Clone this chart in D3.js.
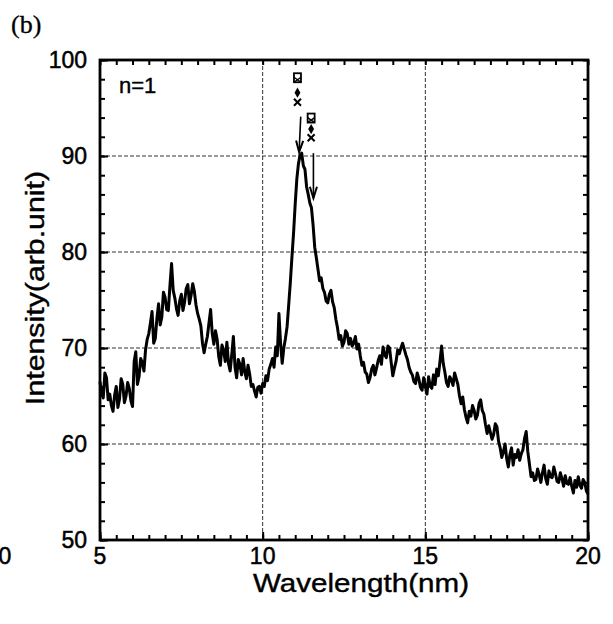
<!DOCTYPE html>
<html>
<head>
<meta charset="utf-8">
<script src="https://cdn.jsdelivr.net/npm/d3@7/dist/d3.min.js"></script>
<style>
  html, body { margin: 0; padding: 0; background: #fff; }
  svg { display: block; }
</style>
</head>
<body>
<svg id="chart" width="613" height="624"></svg>
<script>
// ---------- data ----------
// sampled every 0.05 nm from 5 to 20 nm
const wavelength = d3.range(0, 301).map(i => +(5 + i * 0.05).toFixed(2));
const intensity = [
  66.5, 65.2, 64.8, 67.4, 66.9, 64.6, 65.2, 64.0, 63.4, 65.1,
  66.0, 63.8, 64.7, 66.8, 66.2, 64.3, 65.0, 66.4, 65.8, 64.5,
  63.9, 68.6, 69.6, 66.2, 67.0, 68.9, 68.5, 67.6, 69.8, 70.9,
  71.5, 72.6, 73.8, 70.5, 71.0, 73.1, 74.6, 72.4, 73.2, 75.8,
  75.3, 74.0, 73.9, 76.5, 78.8, 76.0, 75.2, 74.1, 73.4, 74.9,
  75.6, 73.9, 74.8, 76.2, 76.6, 74.6, 75.5, 76.7, 75.9, 74.5,
  73.6, 73.0, 72.3, 70.5, 69.5, 70.4, 71.2, 72.6, 74.0, 71.5,
  70.4, 71.8, 70.9, 69.1, 68.2, 70.3, 69.8, 68.6, 70.6, 68.4,
  67.6, 69.3, 71.2, 68.0, 66.9, 68.8, 68.3, 67.2, 68.9, 67.5,
  66.8, 68.2, 67.3, 66.0, 66.2, 65.5, 64.9, 65.9, 66.0, 65.3,
  66.3, 66.0, 67.1, 66.6, 67.8, 68.3, 68.9, 68.0, 70.1, 69.2,
  73.6, 70.5, 68.4, 70.0, 71.0, 72.2, 74.5, 76.8, 79.5, 82.0,
  85.0, 87.6, 89.2, 90.1, 90.3, 89.0, 88.6, 86.8, 86.0, 85.1,
  84.6, 82.8, 80.5, 79.4, 78.2, 77.0, 77.3, 76.2, 75.8, 74.9,
  74.7, 75.6, 76.0, 74.8, 74.2, 73.0, 72.1, 70.9, 71.3, 70.2,
  70.6, 71.8, 71.5, 70.4, 71.0, 70.2, 70.5, 71.2, 69.9, 70.4,
  69.2, 68.2, 68.5, 67.5, 67.3, 66.4, 66.9, 67.8, 68.2, 67.2,
  67.9, 68.7, 69.2, 68.3, 70.1, 69.3, 69.0, 70.2, 70.0, 68.5,
  67.1, 67.9, 68.6, 69.8, 69.4, 70.0, 70.5, 69.9, 69.3, 68.8,
  68.0, 67.5, 67.2, 66.5, 66.3, 67.4, 66.8, 65.9, 65.6, 66.9,
  66.0, 65.2, 67.0, 66.0, 65.8, 67.2, 66.2, 67.8, 67.1, 68.6,
  70.2, 68.4, 67.5, 66.4, 66.0, 67.0, 66.7, 66.1, 67.4, 66.8,
  66.2, 65.0, 64.2, 64.9, 63.6, 62.8, 62.2, 63.4, 62.9, 64.0,
  63.5, 62.6, 63.0, 64.2, 64.6, 63.5, 63.1, 62.0, 61.1, 61.9,
  61.2, 60.5, 61.0, 62.1, 61.8, 60.3, 59.6, 58.6, 59.2, 60.0,
  58.5, 57.6, 58.9, 59.6, 57.8, 58.9, 58.6, 59.4, 58.3, 59.0,
  59.4, 60.6, 61.3, 59.2, 57.9, 56.6, 57.0, 56.2, 56.3, 57.4,
  56.8, 56.0, 57.0, 57.8, 56.4, 55.8, 57.2, 56.6, 56.5, 57.6,
  56.9, 56.1, 56.0, 57.0, 56.4, 55.6, 56.7, 55.9, 55.8, 56.5,
  55.6, 54.9, 56.2, 55.5, 56.6, 55.7, 55.4, 56.3, 56.0, 55.1,
  54.8
];
const xTicks = [5, 10, 15, 20];
const yTicks = [50, 60, 70, 80, 90, 100];
const xGrid = [10, 15];
const yGrid = [60, 70, 80, 90];
// annotation markers (wavelength, intensity)
const markerCols = [
  { x: 11.07, ySquare: 98.1, yDiamond: 96.6, yCross: 95.6 },
  { x: 11.49, ySquare: 93.9, yDiamond: 92.8, yCross: 91.9 }
];
const arrows = [
  { x1: 11.17, y1: 94.1, x2: 11.12, y2: 90.4 },
  { x1: 11.56, y1: 90.3, x2: 11.56, y2: 85.6 }
];

// ---------- layout ----------
const svg = d3.select("#chart");
const L = 100, R = 588, T = 60, B = 540;
const x = d3.scaleLinear().domain([5, 20]).range([L, R]);
const y = d3.scaleLinear().domain([50, 100]).range([B, T]);
const font = "'Liberation Sans', Arial, sans-serif";

// grid
const grid = svg.append("g").attr("stroke", "#333").attr("stroke-width", 1)
  .attr("stroke-dasharray", "4,2");
grid.selectAll("line.gx").data(xGrid).join("line")
  .attr("x1", d => x(d)).attr("x2", d => x(d)).attr("y1", T).attr("y2", B);
grid.selectAll("line.gy").data(yGrid).join("line")
  .attr("y1", d => y(d)).attr("y2", d => y(d)).attr("x1", L).attr("x2", R);

// data line
const line = d3.line().x((d, i) => x(wavelength[i])).y(d => y(d));
svg.append("path").datum(intensity)
  .attr("d", line).attr("fill", "none").attr("stroke", "#000")
  .attr("stroke-width", 3).attr("stroke-linejoin", "round");

// axes with inward ticks
function styleAxis(g) {
  g.select(".domain").remove();
  g.selectAll(".tick line").attr("stroke", "#000").attr("stroke-width", 2);
  g.selectAll("text").remove();
}
const xMinor = d3.range(5, 20.01, 0.5);
const yMinor = d3.range(50, 100.01, 2);
svg.append("g").attr("transform", `translate(0,${B})`)
  .call(d3.axisBottom(x).tickValues(xMinor).tickSize(-5)).call(styleAxis);
svg.append("g").attr("transform", `translate(0,${T})`)
  .call(d3.axisTop(x).tickValues(xMinor).tickSize(-5)).call(styleAxis);
svg.append("g").attr("transform", `translate(${L},0)`)
  .call(d3.axisLeft(y).tickValues(yMinor).tickSize(-5)).call(styleAxis);
svg.append("g").attr("transform", `translate(${R},0)`)
  .call(d3.axisRight(y).tickValues(yMinor).tickSize(-5)).call(styleAxis);
svg.append("g").attr("transform", `translate(0,${B})`)
  .call(d3.axisBottom(x).tickValues(xTicks).tickSize(-8)).call(styleAxis);
svg.append("g").attr("transform", `translate(${L},0)`)
  .call(d3.axisLeft(y).tickValues(yTicks).tickSize(-8)).call(styleAxis);

// frame
svg.append("rect").attr("x", L).attr("y", T).attr("width", R - L).attr("height", B - T)
  .attr("fill", "none").attr("stroke", "#000").attr("stroke-width", 2.8);

// text helper: slight stroke to mimic the heavy printed type
function ink(sel, w) {
  return sel.attr("fill", "#000").attr("stroke", "#000").attr("stroke-width", w);
}

// tick labels
svg.append("g").selectAll("text").data(xTicks).join("text")
  .attr("x", d => x(d)).attr("y", 564)
  .attr("text-anchor", "middle").attr("font-family", font).attr("font-size", 23)
  .call(ink, 0.5).text(d => d);
svg.append("g").selectAll("text").data(yTicks).join("text")
  .attr("x", 87).attr("y", d => y(d) + 8)
  .attr("text-anchor", "end").attr("font-family", font).attr("font-size", 23)
  .call(ink, 0.5).text(d => d);

// stray "0" from neighbouring panel
svg.append("text").attr("x", 5).attr("y", 564).attr("text-anchor", "middle")
  .attr("font-family", font).attr("font-size", 23).call(ink, 0.5).text("0");

// axis titles
svg.append("text").attr("x", 361).attr("y", 592).attr("text-anchor", "middle")
  .attr("font-family", font).attr("font-size", 26)
  .attr("textLength", 216).attr("lengthAdjust", "spacingAndGlyphs")
  .call(ink, 0.4).text("Wavelength(nm)");
svg.append("text").attr("transform", "translate(44,288) rotate(-90)")
  .attr("text-anchor", "middle").attr("font-family", font).attr("font-size", 25)
  .attr("textLength", 234).attr("lengthAdjust", "spacingAndGlyphs")
  .call(ink, 0.4).text("Intensity(arb.unit)");

// panel label and n=1
svg.append("text").attr("x", 11).attr("y", 33)
  .attr("font-family", "'Liberation Serif', 'DejaVu Serif', serif").attr("font-size", 26)
  .call(ink, 0.3).text("(b)");
svg.append("text").attr("x", 119).attr("y", 93)
  .attr("font-family", font).attr("font-size", 22).call(ink, 0.4).text("n=1");

// annotation markers
const ann = svg.append("g").attr("stroke", "#000").attr("fill", "#000");
markerCols.forEach(c => {
  const cx = x(c.x);
  const sy = y(c.ySquare);
  ann.append("rect").attr("x", cx - 3.5).attr("y", sy - 5).attr("width", 7).attr("height", 9)
    .attr("fill", "none").attr("stroke-width", 1.8);
  ann.append("line").attr("x1", cx - 3.5).attr("x2", cx + 3.5).attr("y1", sy - 1).attr("y2", sy + 4).attr("stroke-width", 1.4);
  ann.append("line").attr("x1", cx + 3.5).attr("x2", cx - 3.5).attr("y1", sy - 1).attr("y2", sy + 4).attr("stroke-width", 1.4);
  ann.append("path").attr("transform", `translate(${cx},${y(c.yDiamond)})`)
    .attr("d", d3.symbol(d3.symbolDiamond, 30)()).attr("stroke", "none");
  const xy = y(c.yCross);
  ann.append("line").attr("x1", cx - 3.5).attr("x2", cx + 3.5).attr("y1", xy - 3.5).attr("y2", xy + 3.5).attr("stroke-width", 2);
  ann.append("line").attr("x1", cx + 3.5).attr("x2", cx - 3.5).attr("y1", xy - 3.5).attr("y2", xy + 3.5).attr("stroke-width", 2);
});

// arrows
arrows.forEach(a => {
  const x1 = x(a.x1), y1 = y(a.y1), x2 = x(a.x2), y2 = y(a.y2);
  ann.append("line").attr("x1", x1).attr("y1", y1).attr("x2", x2).attr("y2", y2).attr("stroke-width", 1.6);
  const ang = Math.atan2(y2 - y1, x2 - x1);
  const len = 12, spread = 0.3;
  const p1 = [x2 - len * Math.cos(ang - spread), y2 - len * Math.sin(ang - spread)];
  const p2 = [x2 - len * Math.cos(ang + spread), y2 - len * Math.sin(ang + spread)];
  ann.append("path").attr("d", `M${p1[0]},${p1[1]}L${x2},${y2}L${p2[0]},${p2[1]}`)
    .attr("fill", "none").attr("stroke-width", 2);
});
</script>
</body>
</html>
